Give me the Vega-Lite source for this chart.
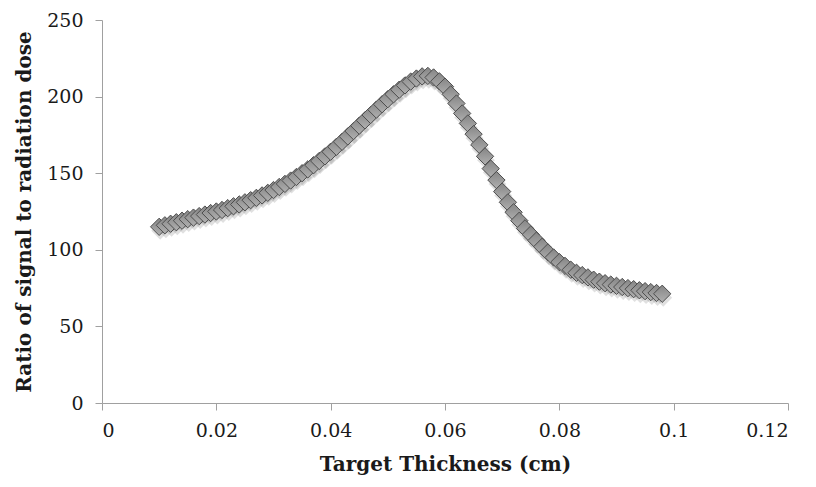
{
  "$schema": "https://vega.github.io/schema/vega-lite/v6.json",
  "width": 686,
  "height": 383,
  "autosize": "none",
  "padding": {"left": 102, "top": 20, "right": 28, "bottom": 84},
  "background": "white",
  "config": {"view": {"stroke": null}},
  "data": {"values": [
    {"t": 0.010, "r": 115}, {"t": 0.011, "r": 116}, {"t": 0.012, "r": 117}, {"t": 0.013, "r": 118},
    {"t": 0.014, "r": 119}, {"t": 0.015, "r": 120}, {"t": 0.016, "r": 121}, {"t": 0.017, "r": 122},
    {"t": 0.018, "r": 123}, {"t": 0.019, "r": 124}, {"t": 0.020, "r": 125}, {"t": 0.021, "r": 126},
    {"t": 0.022, "r": 127.2}, {"t": 0.023, "r": 128.4}, {"t": 0.024, "r": 129.6}, {"t": 0.025, "r": 131},
    {"t": 0.026, "r": 132.4}, {"t": 0.027, "r": 133.9}, {"t": 0.028, "r": 135.5}, {"t": 0.029, "r": 137.2},
    {"t": 0.030, "r": 139}, {"t": 0.031, "r": 141}, {"t": 0.032, "r": 143}, {"t": 0.033, "r": 145.2},
    {"t": 0.034, "r": 147.5}, {"t": 0.035, "r": 150}, {"t": 0.036, "r": 152.5}, {"t": 0.037, "r": 155.2},
    {"t": 0.038, "r": 158}, {"t": 0.039, "r": 161}, {"t": 0.040, "r": 164}, {"t": 0.041, "r": 167.2},
    {"t": 0.042, "r": 170.5}, {"t": 0.043, "r": 174}, {"t": 0.044, "r": 177.5}, {"t": 0.045, "r": 181},
    {"t": 0.046, "r": 184.5}, {"t": 0.047, "r": 188}, {"t": 0.048, "r": 191.5}, {"t": 0.049, "r": 195},
    {"t": 0.050, "r": 198.3}, {"t": 0.051, "r": 201.5}, {"t": 0.052, "r": 204.5}, {"t": 0.053, "r": 207.3},
    {"t": 0.054, "r": 209.8}, {"t": 0.055, "r": 211.8}, {"t": 0.056, "r": 213.2}, {"t": 0.057, "r": 213.5},
    {"t": 0.058, "r": 212.5}, {"t": 0.059, "r": 210}, {"t": 0.060, "r": 206.5}, {"t": 0.061, "r": 201.5},
    {"t": 0.062, "r": 195.5}, {"t": 0.063, "r": 189}, {"t": 0.064, "r": 182.5}, {"t": 0.065, "r": 175.5},
    {"t": 0.066, "r": 168.5}, {"t": 0.067, "r": 161}, {"t": 0.068, "r": 153}, {"t": 0.069, "r": 145.5},
    {"t": 0.070, "r": 138}, {"t": 0.071, "r": 131}, {"t": 0.072, "r": 124.5}, {"t": 0.073, "r": 119},
    {"t": 0.074, "r": 114}, {"t": 0.075, "r": 110}, {"t": 0.076, "r": 106}, {"t": 0.077, "r": 102},
    {"t": 0.078, "r": 98.3}, {"t": 0.079, "r": 95}, {"t": 0.080, "r": 92}, {"t": 0.081, "r": 89.5},
    {"t": 0.082, "r": 87}, {"t": 0.083, "r": 85}, {"t": 0.084, "r": 83.5}, {"t": 0.085, "r": 82},
    {"t": 0.086, "r": 80.5}, {"t": 0.087, "r": 79.2}, {"t": 0.088, "r": 78.2}, {"t": 0.089, "r": 77.3},
    {"t": 0.090, "r": 76.5}, {"t": 0.091, "r": 75.7}, {"t": 0.092, "r": 75}, {"t": 0.093, "r": 74.3},
    {"t": 0.094, "r": 73.6}, {"t": 0.095, "r": 73}, {"t": 0.096, "r": 72.4}, {"t": 0.097, "r": 71.8},
    {"t": 0.098, "r": 71.3}
  ]},
  "encoding": {
    "x": {
      "field": "t", "type": "quantitative",
      "scale": {"domain": [0, 0.12], "nice": false, "zero": true},
      "axis": {
        "title": "Target Thickness (cm)",
        "values": [0, 0.02, 0.04, 0.06, 0.08, 0.1, 0.12],
        "labelExpr": "datum.value == 0 ? '0' : format(datum.value, '.2~f')",
        "grid": false, "domainColor": "#a0a0a0", "tickColor": "#a0a0a0", "tickSize": 7,
        "labelFont": "DejaVu Serif", "labelFontSize": 19, "labelColor": "#1a1a1a", "labelPadding": 11,
        "titleFont": "DejaVu Serif", "titleFontSize": 20, "titleFontWeight": "bold", "titleColor": "#1a1a1a", "titlePadding": 14
      }
    },
    "y": {
      "field": "r", "type": "quantitative",
      "scale": {"domain": [0, 250], "nice": false},
      "axis": {
        "title": "Ratio of signal to radiation dose",
        "values": [0, 50, 100, 150, 200, 250],
        "grid": false, "domainColor": "#a0a0a0", "tickColor": "#a0a0a0", "tickSize": 7,
        "labelFont": "DejaVu Serif", "labelFontSize": 19, "labelColor": "#1a1a1a", "labelPadding": 12,
        "titleFont": "DejaVu Serif", "titleFontSize": 20, "titleFontWeight": "bold", "titleColor": "#1a1a1a", "titlePadding": 12
      }
    }
  },
  "layer": [
    {
      "mark": {
        "type": "point", "shape": "diamond", "filled": true, "size": 320,
        "fill": "#000000", "opacity": 0.12, "strokeWidth": 0, "xOffset": 1, "yOffset": 4
      }
    },
    {
      "mark": {
        "type": "point",
        "shape": "diamond",
        "filled": true,
        "size": 300,
        "opacity": 1,
        "fill": {"gradient": "linear", "x1": 0, "y1": 0, "x2": 0, "y2": 1, "stops": [{"offset": 0, "color": "#858585"}, {"offset": 1, "color": "#b0b0b0"}]},
        "stroke": "#4d4d4d",
        "strokeWidth": 1
      }
    }
  ]
}
